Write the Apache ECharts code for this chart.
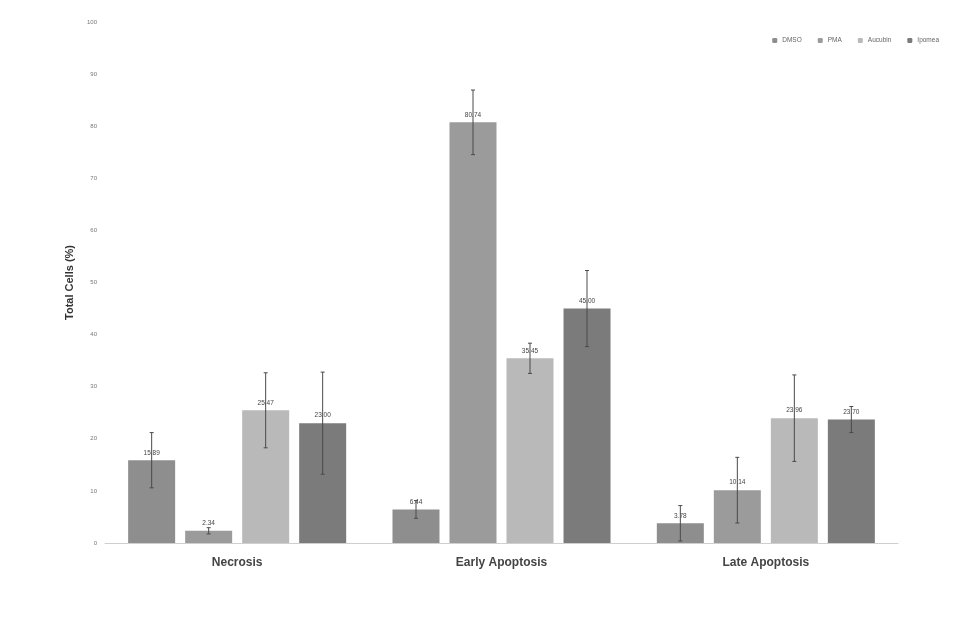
<!DOCTYPE html>
<html>
<head>
<meta charset="utf-8">
<script src="https://cdn.jsdelivr.net/npm/echarts@6/dist/echarts.min.js"></script>
<style>
  html, body { margin: 0; padding: 0; background: #ffffff; }
  #chart { width: 960px; height: 644px; }
</style>
</head>
<body>
<div id="chart"></div>
<script>
// Cell death categories and treatment groups
const categories = ['Necrosis', 'Early Apoptosis', 'Late Apoptosis'];
const seriesNames = ['DMSO', 'PMA', 'Aucubin', 'Ipomea'];

// Mean percentage of total cells, one array per treatment
const dmso    = [15.89, 6.44, 3.78];
const pma     = [2.34, 80.74, 10.14];
const aucubin = [25.47, 35.45, 23.96];
const ipomea  = [23.00, 45.00, 23.70];

// Standard deviation for each mean
const dmsoErr    = [5.3, 1.7, 3.4];
const pmaErr     = [0.6, 6.2, 6.3];
const aucubinErr = [7.2, 2.9, 8.3];
const ipomeaErr  = [9.8, 7.3, 2.5];

const yTicks = [0, 10, 20, 30, 40, 50, 60, 70, 80, 90, 100];

const values = [dmso, pma, aucubin, ipomea];
const errors = [dmsoErr, pmaErr, aucubinErr, ipomeaErr];
const colors = ['#8e8e8e', '#9b9b9b', '#b9b9b9', '#7b7b7b'];

const BAR_W = 47;
const BAR_GAP = 10;

const barSeries = seriesNames.map((name, i) => ({
  name: name,
  type: 'bar',
  data: values[i],
  barWidth: BAR_W,
  barGap: (BAR_GAP / BAR_W * 100).toFixed(1) + '%',
  itemStyle: { color: colors[i] },
  label: {
    show: true,
    position: 'top',
    distance: 4,
    fontSize: 6.5,
    color: '#444',
    fontFamily: 'Liberation Sans',
    formatter: p => p.value.toFixed(2)
  },
  z: 2
}));

// Error bars drawn per treatment, shifted to sit over their own bar
const errorSeries = seriesNames.map((name, i) => ({
  name: name + ' error',
  type: 'custom',
  data: values[i].map((v, j) => [j, v - errors[i][j], v + errors[i][j]]),
  encode: { x: 0, y: [1, 2] },
  renderItem: function (params, api) {
    const shift = (i - 1.5) * (BAR_W + BAR_GAP);
    const lo = api.coord([api.value(0), api.value(1)]);
    const hi = api.coord([api.value(0), api.value(2)]);
    const x = lo[0] + shift;
    const cap = 2;
    const style = { stroke: '#4a4a4a', lineWidth: 1 };
    return {
      type: 'group',
      children: [
        { type: 'line', shape: { x1: x, y1: lo[1], x2: x, y2: hi[1] }, style: style },
        { type: 'line', shape: { x1: x - cap, y1: hi[1], x2: x + cap, y2: hi[1] }, style: style },
        { type: 'line', shape: { x1: x - cap, y1: lo[1], x2: x + cap, y2: lo[1] }, style: style }
      ]
    };
  },
  z: 3,
  silent: true
}));

const chart = echarts.init(document.getElementById('chart'), null, { renderer: 'canvas' });
chart.setOption({
  backgroundColor: '#ffffff',
  animation: false,
  legend: {
    data: seriesNames,
    right: 16,
    top: 32,
    itemWidth: 5,
    itemHeight: 5,
    itemGap: 16,
    textStyle: { fontSize: 6.5, color: '#666', fontFamily: 'Liberation Sans' }
  },
  grid: { left: 105, right: 62, top: 22, bottom: 101 },
  xAxis: {
    type: 'category',
    data: categories,
    axisLine: { show: true, lineStyle: { color: '#cfcfcf', width: 1 } },
    axisTick: { show: false },
    axisLabel: {
      fontSize: 12,
      fontWeight: 'bold',
      color: '#444',
      margin: 14,
      fontFamily: 'Liberation Sans'
    }
  },
  yAxis: {
    type: 'value',
    min: yTicks[0],
    max: yTicks[yTicks.length - 1],
    interval: 10,
    name: 'Total Cells (%)',
    nameLocation: 'middle',
    nameGap: 30,
    nameTextStyle: { fontSize: 11, fontWeight: 'bold', color: '#333', fontFamily: 'Liberation Sans' },
    axisLine: { show: false },
    axisTick: { show: false },
    splitLine: { show: false },
    axisLabel: { fontSize: 6, color: '#777', margin: 8, fontFamily: 'Liberation Sans' }
  },
  series: barSeries.concat(errorSeries)
});
</script>
</body>
</html>
